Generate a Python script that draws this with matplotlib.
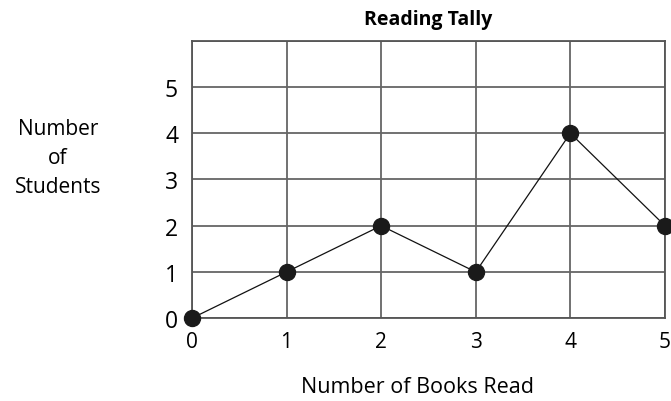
import matplotlib.pyplot as plt

books = [0, 1, 2, 3, 4, 5]
students = [0, 1, 2, 1, 4, 2]
x_ticks = [0, 1, 2, 3, 4, 5]
y_ticks = [0, 1, 2, 3, 4, 5]

plt.rcParams['font.family'] = ['Open Sans', 'DejaVu Sans']

fig = plt.figure(figsize=(6.71, 4.02), dpi=100)
ax = fig.add_axes([0.286, 0.206, 0.705, 0.690])

ax.plot(books, students, color='#111111', linewidth=0.9, marker='o',
        markersize=11.5, markerfacecolor='#1a1a1a', markeredgecolor='#1a1a1a',
        clip_on=False, zorder=3)

ax.set_xlim(0, 5)
ax.set_ylim(0, 6)
ax.set_xticks(x_ticks)
ax.set_yticks(list(range(7)))
ax.set_yticklabels([str(v) for v in y_ticks] + [''])
ax.grid(True, color='#666666', linewidth=1.3)
ax.tick_params(axis='both', length=0)
ax.tick_params(axis='x', labelsize=15, pad=9)
ax.tick_params(axis='y', labelsize=16.5, pad=10)
for s in ax.spines.values():
    s.set_color('#555555')
    s.set_linewidth(1.3)

ax.set_title('Reading Tally', fontsize=14, fontweight='bold', pad=12)
ax.set_xlabel('Number of Books Read', fontsize=15.5, va='center')
ax.xaxis.set_label_coords(0.476, -0.245)
ax.set_ylabel('Number\nof\nStudents', fontsize=15, rotation=0,
              ha='center', va='center', linespacing=1.5, labelpad=0)
ax.yaxis.set_label_coords(-0.283, 0.58)

plt.savefig('out.png', dpi=100)
